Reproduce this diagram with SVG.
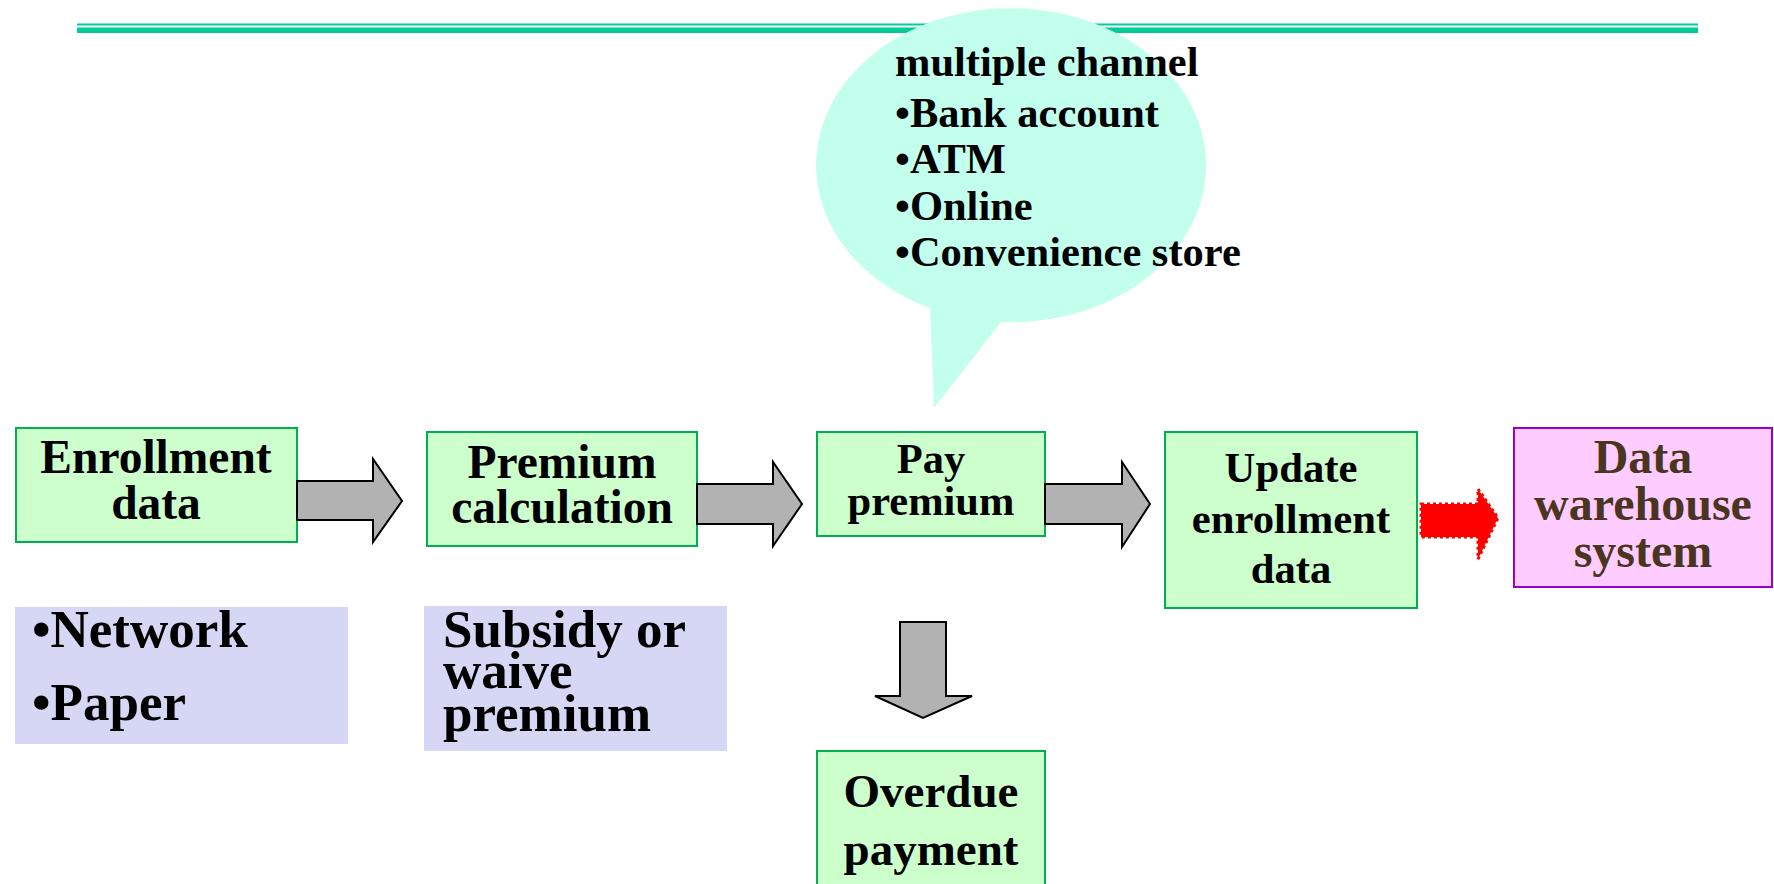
<svg xmlns="http://www.w3.org/2000/svg" width="1774" height="884" viewBox="0 0 1774 884">
<style>
.t{font-family:"Liberation Serif","Times New Roman",serif;font-weight:bold;fill:#000}
.box{fill:#CCFFCC;stroke:#00B050;stroke-width:2}
.note{fill:#D6D6F5}
.garrow{fill:#B2B2B2;stroke:#000;stroke-width:2;stroke-linejoin:miter}
</style>
<rect width="1774" height="884" fill="#fff"/>
<g id="header">
<rect x="77" y="23.5" width="1621" height="2" fill="#00CC99"/>
<rect x="77" y="27.5" width="1621" height="5.5" fill="#00CC99"/>
</g>
<g id="bubble">
<path d="M930,308 A195,157 0 1 1 1001,322 L934,408 Z" fill="#C2FFEC"/>
<text class="t" font-size="42.5"><tspan x="895" y="76">multiple channel</tspan><tspan x="895" y="127">•Bank account</tspan><tspan x="895" y="173">•ATM</tspan><tspan x="895" y="220">•Online</tspan><tspan x="895" y="266">•Convenience store</tspan></text>
</g>
<g id="enrollment">
<rect class="box" x="16" y="428" width="281" height="114"/>
<text class="t" font-size="47.5" text-anchor="middle"><tspan x="156" y="473">Enrollment</tspan><tspan x="156" y="519">data</tspan></text>
</g>
<g id="channels-note">
<rect class="note" x="15" y="607" width="333" height="137"/>
<text class="t" font-size="53"><tspan x="32" y="647">•Network</tspan><tspan x="32" y="720">•Paper</tspan></text>
</g>
<g id="premium-calc">
<rect class="box" x="427" y="432" width="270" height="114"/>
<text class="t" font-size="47.5" text-anchor="middle"><tspan x="562" y="478">Premium</tspan><tspan x="562" y="523">calculation</tspan></text>
</g>
<g id="subsidy-note">
<rect class="note" x="424" y="606" width="303" height="145"/>
<text class="t" font-size="53"><tspan x="443" y="647">Subsidy or</tspan><tspan x="443" y="688">waive</tspan><tspan x="443" y="731">premium</tspan></text>
</g>
<g id="pay-premium">
<rect class="box" x="817" y="432" width="228" height="104"/>
<text class="t" font-size="42.5" text-anchor="middle"><tspan x="931" y="473">Pay</tspan><tspan x="931" y="515">premium</tspan></text>
</g>
<g id="overdue">
<rect class="box" x="817" y="751" width="228" height="140"/>
<text class="t" font-size="47" text-anchor="middle"><tspan x="931" y="807">Overdue</tspan><tspan x="931" y="865">payment</tspan></text>
</g>
<g id="update">
<rect class="box" x="1165" y="432" width="252" height="176"/>
<text class="t" font-size="42.7" text-anchor="middle"><tspan x="1291" y="482">Update</tspan><tspan x="1291" y="533">enrollment</tspan><tspan x="1291" y="583">data</tspan></text>
</g>
<g id="data-warehouse">
<rect x="1514" y="428" width="258" height="159" fill="#FFCCFF" stroke="#9900CC" stroke-width="2"/>
<text class="t" font-size="48" text-anchor="middle" style="fill:#4A3520"><tspan x="1643" y="473">Data</tspan><tspan x="1643" y="520">warehouse</tspan><tspan x="1643" y="567">system</tspan></text>
</g>
<g id="connectors">
<path class="garrow" d="M297,481 L373,481 L373,459 L402,501 L373,542 L373,520 L297,520 Z"/>
<path class="garrow" d="M697,484 L773,484 L773,462 L802,504 L773,546 L773,524 L697,524 Z"/>
<path class="garrow" d="M1045,484 L1122,484 L1122,462 L1150,504 L1122,547 L1122,524 L1045,524 Z"/>
<path class="garrow" d="M900,622 L946,622 L946,696 L972,696 L923,718 L875,696 L900,696 Z"/>
<path d="M1421,504 L1478,504 L1478,489 L1498,518 L1478,559 L1478,537 L1421,537 Z" fill="#FF0000" stroke="#FF0000" stroke-width="3" stroke-dasharray="3 3"/>
</g>
</svg>
